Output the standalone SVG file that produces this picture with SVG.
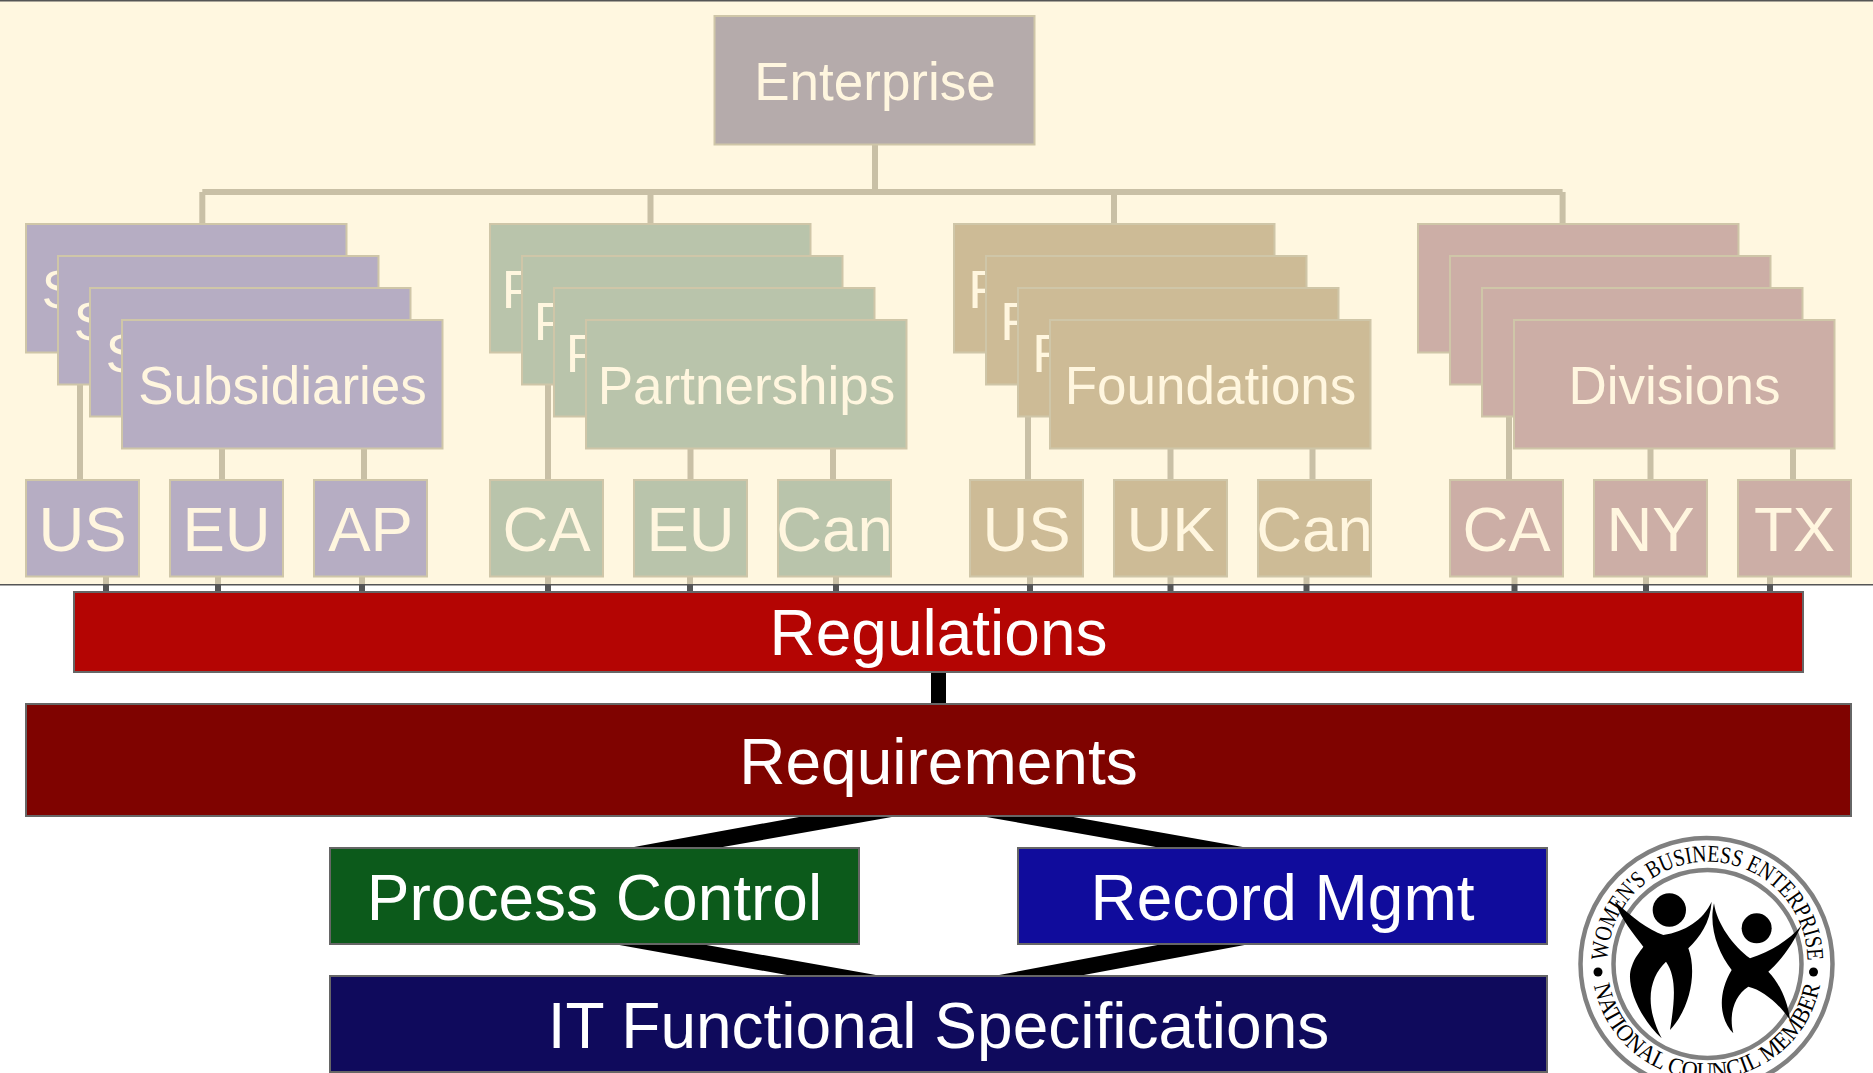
<svg xmlns="http://www.w3.org/2000/svg" width="1873" height="1073" viewBox="0 0 1873 1073">
<defs>
<style>
.t{font-family:"Liberation Sans",Arial,sans-serif;text-anchor:middle}
.c{fill:#FFF6DF}
.w{fill:#fff;font-size:64px}
.n{stroke:#CFC6A8;stroke-width:2}
.s{stroke:#C9C0A6;stroke-width:6;fill:none}
.d{stroke:#555;stroke-width:6;fill:none}
.b{stroke:#666;stroke-width:2}
.lg{font-family:"Liberation Serif",serif;font-size:24px;fill:#000}
.ring{fill:none;stroke:#808080}
.m{font-size:53px}
.l{font-size:63.500px}
</style>
<path id="arcTop" d="M1610 984A100 100 0 1 1 1805 984"/>
<path id="arcBot" d="M1592 964A115 115 0 0 0 1822 964"/>
</defs>
<rect width="1873" height="585" fill="#FFF7E0"/>
<rect width="1873" height="1.500" fill="#555"/>
<g id="connectors">
<path class="s" d="M875 145V192M202.300 192H1562.600M202.300 192V224M1562.600 192V224M650.500 192V224M1114 192V224"/>
<path class="s" d="M80 385V480M222 449V480M364 449V480M548 385V480M690.500 449V480M833 449V480M1028 417V480M1170.500 449V480M1312.500 449V480M1509 417V480M1650.500 449V480M1793 449V480"/>
<path class="s" d="M106 577V584M218 577V584M362 577V584M548 577V584M690 577V584M836 577V584M1030 577V584M1170.500 577V584M1306.500 577V584M1514.500 577V584M1646 577V584M1770 577V584"/>
<path class="d" d="M106 584V592M218 584V592M362 584V592M548 584V592M690 584V592M836 584V592M1030 584V592M1170.500 584V592M1306.500 584V592M1514.500 584V592M1646 584V592M1770 584V592"/>
<rect x="931" y="672" width="15" height="32" fill="#000"/>
<polygon points="810,815 903,815 705.800,850 617.600,850" fill="#000"/>
<polygon points="975,815 1062,815 1259.700,850 1172.700,850" fill="#000"/>
<polygon points="608.300,943 695.300,943 892.700,978 803.700,978" fill="#000"/>
<polygon points="1168,943 1255.300,943 1067.700,978 983,978" fill="#000"/>
</g>
<rect y="584" width="1873" height="1.500" fill="#555"/>
<g id="enterprise"><rect class="n" x="714.500" y="16" width="320" height="128.500" fill="#B5ABAB"/><text class="t c" x="875" y="100" font-size="53">Enterprise</text></g>
<g id="subsidiaries" fill="#B6ADC3">
<rect class="n" x="26" y="224" width="320.500" height="128.500"/><text class="t c m" x="186" y="307.500">Subsidiaries</text>
<rect class="n" x="58" y="256" width="320.500" height="128.500"/><text class="t c m" x="218" y="339.500">Subsidiaries</text>
<rect class="n" x="90" y="288" width="320.500" height="128.500"/><text class="t c m" x="250" y="371.500">Subsidiaries</text>
<rect class="n" x="122" y="320" width="320.500" height="128.500"/><text class="t c m" x="282.500" y="403.500">Subsidiaries</text>
</g>
<g id="partnerships" fill="#B9C4AB">
<rect class="n" x="490" y="224" width="320.500" height="128.500"/><text class="t c m" x="650.500" y="307.500">Partnerships</text>
<rect class="n" x="522" y="256" width="320.500" height="128.500"/><text class="t c m" x="682.500" y="339.500">Partnerships</text>
<rect class="n" x="554" y="288" width="320.500" height="128.500"/><text class="t c m" x="714.500" y="371.500">Partnerships</text>
<rect class="n" x="586" y="320" width="320.500" height="128.500"/><text class="t c m" x="746.500" y="403.500">Partnerships</text>
</g>
<g id="foundations" fill="#CDBB96">
<rect class="n" x="954" y="224" width="320.500" height="128.500"/><text class="t c m" x="1114" y="307.500">Foundations</text>
<rect class="n" x="986" y="256" width="320.500" height="128.500"/><text class="t c m" x="1146" y="339.500">Foundations</text>
<rect class="n" x="1018" y="288" width="320.500" height="128.500"/><text class="t c m" x="1178" y="371.500">Foundations</text>
<rect class="n" x="1050" y="320" width="320.500" height="128.500"/><text class="t c m" x="1210.500" y="403.500">Foundations</text>
</g>
<g id="divisions" fill="#CCAEA6">
<rect class="n" x="1418" y="224" width="320.500" height="128.500"/><text class="t c m" x="1578" y="307.500">Divisions</text>
<rect class="n" x="1450" y="256" width="320.500" height="128.500"/><text class="t c m" x="1610" y="339.500">Divisions</text>
<rect class="n" x="1482" y="288" width="320.500" height="128.500"/><text class="t c m" x="1642" y="371.500">Divisions</text>
<rect class="n" x="1514" y="320" width="320.500" height="128.500"/><text class="t c m" x="1674.500" y="403.500">Divisions</text>
</g>
<g id="leaf-us1"><rect class="n" x="26" y="480" width="113" height="96.500" fill="#B6ADC3"/><text class="t c l" x="82.500" y="551">US</text></g>
<g id="leaf-eu1"><rect class="n" x="170" y="480" width="113" height="96.500" fill="#B6ADC3"/><text class="t c l" x="226.500" y="551">EU</text></g>
<g id="leaf-ap"><rect class="n" x="314" y="480" width="113" height="96.500" fill="#B6ADC3"/><text class="t c l" x="370.500" y="551">AP</text></g>
<g id="leaf-ca1"><rect class="n" x="490" y="480" width="113" height="96.500" fill="#B9C4AB"/><text class="t c l" x="546.500" y="551">CA</text></g>
<g id="leaf-eu2"><rect class="n" x="634" y="480" width="113" height="96.500" fill="#B9C4AB"/><text class="t c l" x="690.500" y="551">EU</text></g>
<g id="leaf-can1"><rect class="n" x="778" y="480" width="113" height="96.500" fill="#B9C4AB"/><text class="t c l" x="834.500" y="551">Can</text></g>
<g id="leaf-us2"><rect class="n" x="970" y="480" width="113" height="96.500" fill="#CDBB96"/><text class="t c l" x="1026.500" y="551">US</text></g>
<g id="leaf-uk"><rect class="n" x="1114" y="480" width="113" height="96.500" fill="#CDBB96"/><text class="t c l" x="1170.500" y="551">UK</text></g>
<g id="leaf-can2"><rect class="n" x="1258" y="480" width="113" height="96.500" fill="#CDBB96"/><text class="t c l" x="1314.500" y="551">Can</text></g>
<g id="leaf-ca2"><rect class="n" x="1450" y="480" width="113" height="96.500" fill="#CCAEA6"/><text class="t c l" x="1506.500" y="551">CA</text></g>
<g id="leaf-ny"><rect class="n" x="1594" y="480" width="113" height="96.500" fill="#CCAEA6"/><text class="t c l" x="1650.500" y="551">NY</text></g>
<g id="leaf-tx"><rect class="n" x="1738" y="480" width="113" height="96.500" fill="#CCAEA6"/><text class="t c l" x="1794.500" y="551">TX</text></g>
<g id="regulations"><rect class="b" x="74" y="592" width="1729" height="80" fill="#B40503"/><text class="t w" x="938.500" y="655">Regulations</text></g>
<g id="requirements"><rect class="b" x="26" y="704" width="1825" height="112" fill="#7F0300"/><text class="t w" x="938.500" y="784">Requirements</text></g>
<g id="process-control"><rect class="b" x="330" y="848" width="529" height="96" fill="#0C5A1B"/><text class="t w" x="594.500" y="920">Process Control</text></g>
<g id="record-mgmt"><rect class="b" x="1018" y="848" width="529" height="96" fill="#100C9C"/><text class="t w" x="1282.500" y="920">Record Mgmt</text></g>
<g id="it-specs"><rect class="b" x="330" y="976" width="1217" height="96" fill="#0F0A5C"/><text class="t w" x="938.500" y="1048">IT Functional Specifications</text></g>
<g id="logo">
<circle class="ring" cx="1706.500" cy="964" r="126" stroke-width="4.500"/>
<circle class="ring" cx="1707.500" cy="964" r="94" stroke-width="4.500"/>
<text class="lg"><textPath href="#arcTop" startOffset="50%" text-anchor="middle" textLength="312" lengthAdjust="spacingAndGlyphs">WOMEN'S BUSINESS ENTERPRISE</textPath></text>
<text class="lg"><textPath href="#arcBot" startOffset="50%" text-anchor="middle" textLength="318" lengthAdjust="spacingAndGlyphs">NATIONAL COUNCIL MEMBER</textPath></text>
<circle cx="1598" cy="972" r="4.500"/><circle cx="1813.500" cy="972" r="4.500"/>
<g transform="translate(1560 820) scale(.33333)">
<circle cx="328" cy="270" r="50"/><circle cx="590" cy="325" r="45"/>
<path d="M165 245C215 290 265 330 310 345C375 335 430 300 455 245C450 310 420 350 385 385C410 450 395 560 330 630C345 540 350 470 318 425C270 470 250 550 305 655C235 590 195 490 215 440C225 410 240 395 250 380C220 340 185 300 165 245Z"/>
<path d="M462 250C470 310 520 380 570 415C630 395 690 360 725 315C700 370 665 420 625 455C660 490 685 550 690 600C660 555 610 510 565 500C525 525 505 580 520 640C480 600 470 525 515 450C475 400 445 320 462 250Z"/>
</g>
</g>
</svg>
